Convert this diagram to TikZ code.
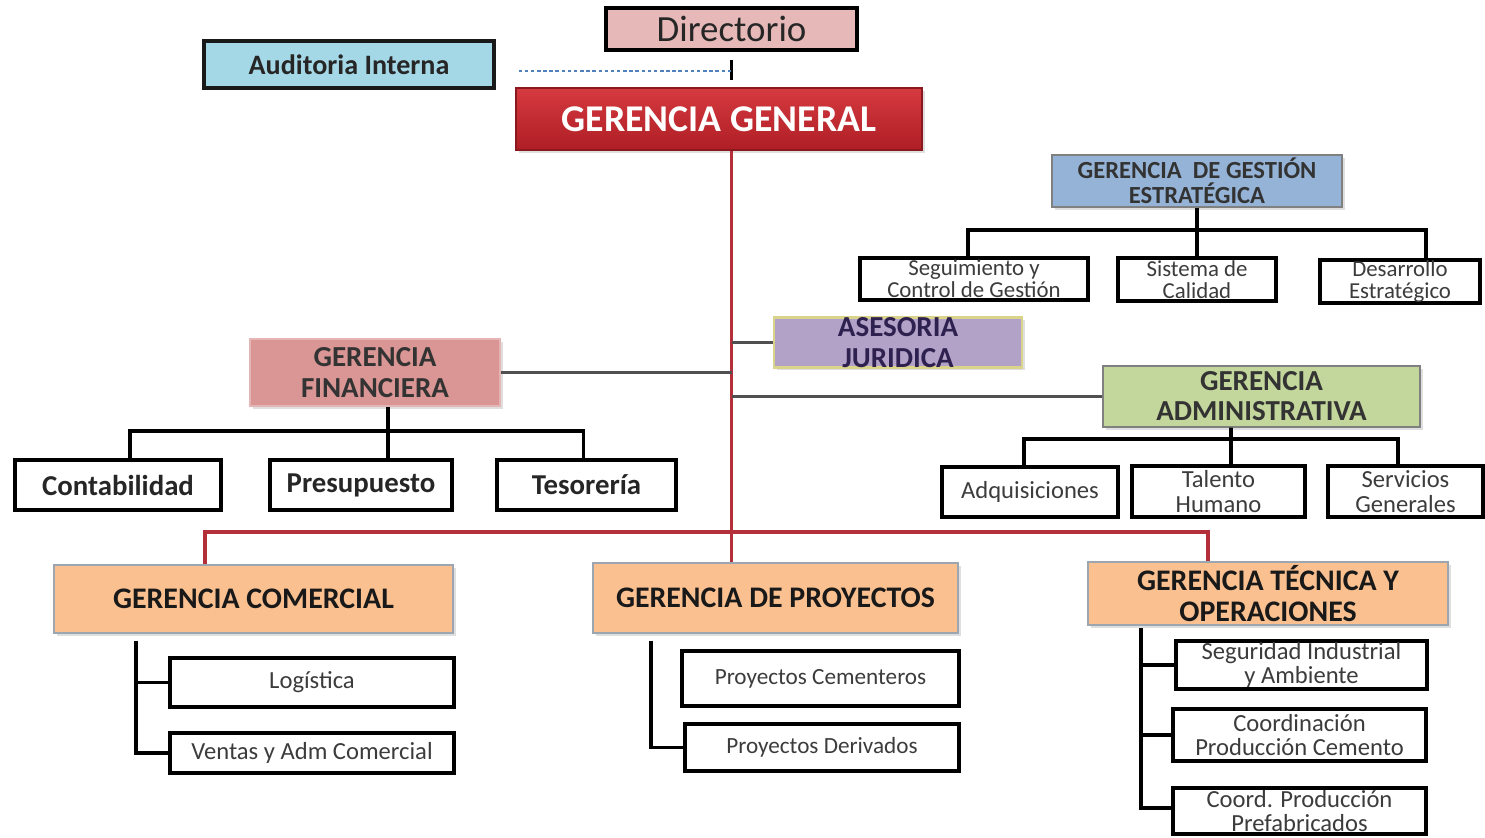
\documentclass[tikz,border=0pt]{standalone}
\usepackage{fontspec}
\setmainfont{Carlito}
\usetikzlibrary{calc,shadows}

\definecolor{dirfill}{HTML}{E6B9B8}
\definecolor{audfill}{HTML}{A5D8E6}
\definecolor{ggtop}{HTML}{D53A3F}
\definecolor{ggbot}{HTML}{AE1E25}
\definecolor{ggefill}{HTML}{95B3D7}
\definecolor{asefill}{HTML}{B3A2C7}
\definecolor{aseedge}{HTML}{D9D48A}
\definecolor{asetext}{HTML}{2E2150}
\definecolor{finfill}{HTML}{D99694}
\definecolor{admfill}{HTML}{C3D69B}
\definecolor{peach}{HTML}{FAC090}
\definecolor{peachedge}{HTML}{9CA6B0}
\definecolor{trunkred}{HTML}{B3303A}
\definecolor{sidegray}{HTML}{505050}
\definecolor{dotblue}{HTML}{4F81BD}
\definecolor{hdrtext}{HTML}{333333}
\definecolor{kidtext}{HTML}{3C3C3C}

% place a box by its left, top, right and bottom edges (in px units)
\newcommand\orgbox[7]{%
  \node[#6, minimum width={(#4-#2)*0.02cm}, minimum height={(#5-#3)*0.02cm}]
    (#1) at ({(#2+#4)/2},{(#3+#5)/2}) {#7};}

\tikzset{
  base/.style={rectangle, inner sep=0pt, align=center},
  hdr/.style={base, line width=0.8pt, drop shadow={shadow xshift=1.5pt, shadow yshift=-1.5pt, opacity=0.25}},
  kid/.style={base, draw=black, line width=2pt, fill=white, text=kidtext},
  kidone/.style={kid, font=\fontsize{14}{14}\selectfont},
  kidtwo/.style={kid, font=\fontsize{14}{14}\selectfont},
  kidtight/.style={kid, font=\fontsize{13}{12.5}\selectfont},
  redline/.style={draw=trunkred, line width=2.2pt},
  sideline/.style={draw=sidegray, line width=1.3pt},
  treeline/.style={draw=black, line width=2.2pt},
  dotline/.style={draw=dotblue, line width=0.9pt, dash pattern=on 2pt off 1.5pt},
}

\begin{document}
\begin{tikzpicture}[x=0.02cm, y=-0.02cm]
\useasboundingbox (0,0) rectangle (1485,838);

% ---- top level ----
\orgbox{dir}{606}{8}{857}{50}{base, draw=black, line width=1.8pt, fill=dirfill, text=black!85,
  font=\fontsize{21}{23}\selectfont}{Directorio}
\orgbox{aud}{204}{41}{494}{88}{base, draw=black!90, line width=1.8pt, fill=audfill, text=black!85,
  font=\bfseries\fontsize{16}{18}\selectfont}{Auditoria Interna}
\orgbox{gg}{516}{88}{922}{150}{hdr, draw=ggbot!80!black, top color=ggtop, bottom color=ggbot, text=white,
  font=\bfseries\fontsize{21.5}{23}\selectfont}{GERENCIA GENERAL}

% ---- staff and side units ----
\orgbox{gge}{1052}{155}{1342}{207}{hdr, draw=gray, fill=ggefill, text=hdrtext,
  font=\bfseries\fontsize{14}{14.5}\selectfont}{GERENCIA\ \ DE GESTIÓN\\ESTRATÉGICA}
\orgbox{ase}{774}{318}{1022}{367}{hdr, draw=aseedge, line width=1.2pt, fill=asefill, text=asetext,
  font=\bfseries\fontsize{16.5}{17.5}\selectfont}{ASESORIA\\JURIDICA}
\orgbox{fin}{250}{339}{500}{406}{hdr, draw=finfill!70!white, fill=finfill, text=hdrtext,
  font=\bfseries\fontsize{16.5}{17.5}\selectfont}{GERENCIA\\FINANCIERA}
\orgbox{adm}{1103}{366}{1420}{427}{hdr, draw=gray, fill=admfill, text=hdrtext,
  font=\bfseries\fontsize{16.5}{17}\selectfont}{GERENCIA\\ADMINISTRATIVA}

% ---- children of strategic management ----
\orgbox{seg}{860}{258}{1088}{300}{kidtight}{Seguimiento y\\Control de Gestión}
\orgbox{cal}{1118}{258}{1276}{301}{kidtight}{Sistema de\\Calidad}
\orgbox{des}{1320}{260}{1480}{303}{kidtight}{Desarrollo\\Estratégico}

% ---- children of finance ----
\orgbox{cont}{15}{460}{221}{510}{kid, text=black!85, font=\bfseries\fontsize{16.4}{18}\selectfont}{Contabilidad}
\orgbox{pres}{270}{460}{452}{510}{kid, text=black!85, font=\bfseries\fontsize{16.4}{18}\selectfont}{Presupuesto}
\orgbox{teso}{497}{460}{676}{510}{kid, text=black!85, font=\bfseries\fontsize{16.4}{18}\selectfont}{Tesorería}

% ---- children of administration ----
\orgbox{adq}{942}{467}{1118}{517}{kidone}{Adquisiciones}
\orgbox{tal}{1132}{466}{1305}{517}{kidtwo}{Talento\\Humano}
\orgbox{ser}{1328}{466}{1483}{517}{kidtwo}{Servicios\\Generales}

% ---- line managements ----
\orgbox{com}{54}{565}{453}{633}{hdr, draw=peachedge, fill=peach, text=black!90,
  font=\bfseries\fontsize{17}{17.5}\selectfont}{GERENCIA COMERCIAL}
\orgbox{proy}{593}{563}{958}{633}{hdr, draw=peachedge, fill=peach, text=black!90,
  font=\bfseries\fontsize{17}{17.5}\selectfont}{GERENCIA DE PROYECTOS}
\orgbox{tec}{1088}{562}{1448}{625}{hdr, draw=peachedge, fill=peach, text=black!90,
  font=\bfseries\fontsize{17}{17.5}\selectfont}{GERENCIA TÉCNICA Y\\OPERACIONES}

% ---- their units ----
\orgbox{log}{170}{658}{454}{707}{kidone}{Logística}
\orgbox{ven}{170}{733}{454}{773}{kidone}{Ventas y Adm Comercial}
\orgbox{pce}{682}{651}{959}{706}{kid, font=\fontsize{13.2}{14}\selectfont}{Proyectos Cementeros}
\orgbox{pde}{685}{724}{959}{771}{kid, font=\fontsize{13.2}{14}\selectfont}{Proyectos Derivados}
\orgbox{sia}{1176}{641}{1427}{689}{kidtwo}{Seguridad Industrial\\y Ambiente}
\orgbox{cpc}{1173}{709}{1426}{761}{kidtwo}{Coordinación\\Producción Cemento}
\orgbox{cpp}{1173}{788}{1426}{834}{kidtwo}{Coord. Producción\\Prefabricados}

% ---- Directorio link and audit dotted link ----
\coordinate (dt1) at ($(dir.south)+(0,8)$);
\coordinate (dt2) at ($(dir.south)+(0,28)$);
\coordinate (dotstart) at ($(aud.east)+(23,6.5)$);
\draw[line width=1.8pt] (dt1) -- (dt2);
\draw[dotline] (dotstart) -- (dotstart -| dt1);

% ---- red trunk and bottom bus ----
\coordinate (tk) at (gg.south -| dir.south);
\coordinate (tkend) at (proy.north -| dir.south);
\coordinate (comtop) at ($(com.north)+(-48.5,0)$);
\coordinate (tectop) at ($(tec.north)+(-60,0)$);
\draw[redline] (tk) -- (tkend);
\draw[redline] (comtop) -- ++(0,-32) -| (tectop);

% ---- side connectors to the trunk ----
\draw[sideline] ($(gge.west)+(0,4)$) -- ($(gge.west)+(0,4)$ -| tk);
\draw[sideline] (ase.west) -- (ase.west -| tk);
\draw[sideline] (fin.east) -- (fin.east -| tk);
\draw[sideline] (adm.west) -- (adm.west -| tk);

% ---- strategic management tree ----
\draw[treeline] (gge.south) -- (gge.south |- cal.north);
\draw[treeline] ($(seg.north)+(-6,0)$) -- ++(0,-26) -| ($(des.north)+(26,0)$);

% ---- finance tree ----
\draw[treeline] ($(fin.south)+(13,0)$) -- ($(pres.north)+(27,0)$);
\draw[treeline] ($(cont.north)+(12,0)$) -- ++(0,-27) -| ($(teso.north)+(-3,0)$);

% ---- administration tree ----
\draw[treeline] ($(adm.south)+(-30.5,0)$) -- ($(tal.north)+(12.5,0)$);
\draw[treeline] ($(adq.north)+(-6,0)$) -- ++(0,-26) -| ($(ser.north)+(-7.5,0)$);

% ---- commercial units ----
\coordinate (cv) at ($(com.south west)+(83,7)$);
\draw[treeline] (cv) |- (ven.west);
\draw[treeline] (log.west) -- (log.west -| cv);

% ---- project units ----
\coordinate (pv) at ($(proy.south west)+(59,7)$);
\draw[treeline] (pv) |- (pde.west);
\draw[treeline] ($(pce.west)+(0,9)$) -- ($(pce.west)+(0,9)$ -| pv);

% ---- technical units ----
\coordinate (tv) at ($(tec.south west)+(54,2)$);
\draw[treeline] (tv) |- ($(cpp.west)+(0,-3)$);
\draw[treeline] (sia.west) -- (sia.west -| tv);
\draw[treeline] (cpc.west) -- (cpc.west -| tv);
\end{tikzpicture}
\end{document}
